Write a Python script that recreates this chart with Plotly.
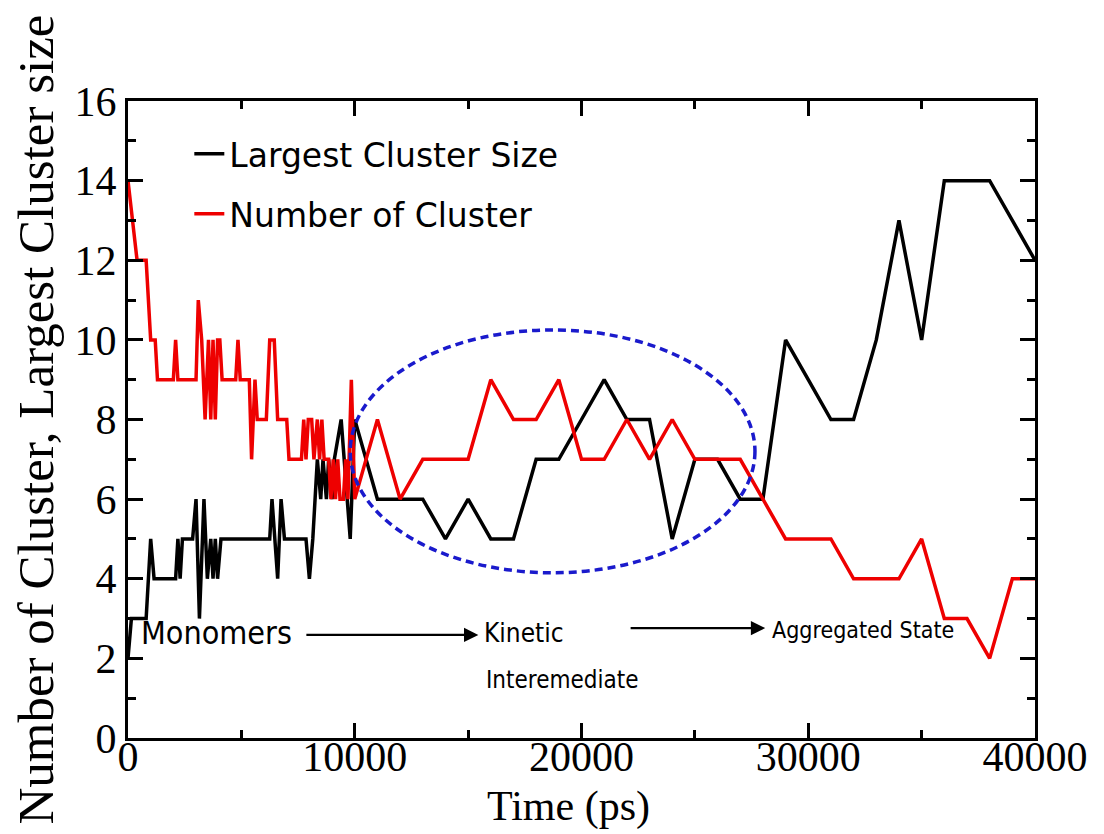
import plotly.graph_objects as go

# ---------------- data ----------------
time_largest = [0, 150, 800, 1000, 1150, 2100, 2200, 2300, 2400, 2850,
                3000, 3150, 3350, 3500, 3650, 3750, 3850, 3950, 4100, 6250,
                6350, 6600, 6750, 6900, 7850, 8000, 8150, 8350, 8500, 8600,
                8750, 8850, 9000, 9100, 9400, 9800, 10000, 11000, 12000, 13000,
                14000, 15000, 16000, 17000, 18000, 19000, 20000, 21000, 22000, 23000,
                24000, 25000, 26000, 27000, 28000, 29000, 30000, 31000, 32000, 33000,
                34000, 35000, 36000, 37000, 38000, 39000, 40000]
largest_size = [2, 3, 3, 5, 4, 4, 5, 4, 5, 5,
                6, 3, 6, 4, 5, 4, 5, 4, 5, 5,
                6, 4, 6, 5, 5, 4, 5, 7, 6, 7,
                6, 7, 6, 7, 8, 5, 8, 6, 6, 6,
                5, 6, 5, 5, 7, 7, 8, 9, 8, 8,
                5, 7, 7, 6, 6, 10, 9, 8, 8, 10,
                13, 10, 14, 14, 14, 13, 12]

time_number = [0, 400, 800, 1000, 1200, 1300, 2000, 2100, 2200, 3000,
               3100, 3250, 3400, 3550, 3650, 3750, 3850, 3950, 4050, 4150,
               4750, 4850, 4950, 5350, 5450, 5600, 5700, 6100, 6250, 6450,
               6600, 7000, 7100, 7650, 7750, 7850, 7950, 8100, 8200, 8350,
               8450, 8550, 8650, 8850, 8950, 9050, 9150, 9250, 9350, 9500,
               9600, 9700, 9850, 10000, 11000, 12000, 13000, 14000, 15000, 16000,
               17000, 18000, 19000, 20000, 21000, 22000, 23000, 24000, 25000, 26000,
               27000, 28000, 29000, 30000, 31000, 32000, 33000, 34000, 35000, 36000,
               37000, 38000, 39000, 40000]
number_clusters = [14, 12, 12, 10, 10, 9, 9, 10, 9, 9,
                   11, 10, 8, 10, 8, 10, 8, 10, 10, 9,
                   9, 10, 9, 9, 7, 9, 8, 8, 10, 10,
                   8, 8, 7, 7, 8, 7, 8, 8, 7, 8,
                   7, 8, 7, 7, 6, 7, 6, 7, 6, 6,
                   7, 6, 9, 6, 8, 6, 7, 7, 7, 9,
                   8, 8, 9, 7, 7, 8, 7, 8, 7, 7,
                   7, 6, 5, 5, 5, 4, 4, 4, 5, 3,
                   3, 2, 4, 4]

x_ticks = [0, 10000, 20000, 30000, 40000]
y_ticks = [0, 2, 4, 6, 8, 10, 12, 14, 16]

SERIF = "Liberation Serif, Times New Roman, serif"
SANS = "DejaVu Sans, sans-serif"
COND = "DejaVu Sans Condensed, DejaVu Sans, sans-serif"

fig = go.Figure()
fig.add_trace(go.Scatter(x=time_largest, y=largest_size, mode="lines",
                         name="Largest Cluster Size", legendgroup="a",
                         line=dict(color="black", width=3.5)))
fig.add_trace(go.Scatter(x=time_number, y=number_clusters, mode="lines",
                         name="Number of Cluster", legendgroup="b",
                         line=dict(color="#ee0000", width=3.5)))

axis_common = dict(showline=True, linewidth=3, linecolor="black", mirror="ticks",
                   ticks="inside", tickwidth=3, tickcolor="black", ticklen=15,
                   showgrid=False, zeroline=False,
                   tickfont=dict(family=SERIF, size=42, color="black"))

fig.update_xaxes(range=[0, 40000], tickvals=x_ticks, ticktext=[str(v) for v in x_ticks],
                 ticklabelstandoff=-20,
                 minor=dict(dtick=5000, ticks="inside", ticklen=8, tickwidth=3,
                            tickcolor="black", showgrid=False),
                 **axis_common)
fig.update_yaxes(range=[0, 16], tickvals=y_ticks, ticktext=[str(v) for v in y_ticks],
                 minor=dict(dtick=1, ticks="inside", ticklen=8, tickwidth=3,
                            tickcolor="black", showgrid=False),
                 **axis_common)

fig.add_shape(type="circle", xref="x", yref="y", x0=9800, x1=27650, y0=4.15, y1=10.25,
              line=dict(color="#1a1acc", width=3.5, dash="8px,5px"))

anns = [
    dict(text="Number of Cluster, Largest Cluster size", xref="paper", yref="paper",
         x=-0.1025, y=0.5, textangle=-90, showarrow=False,
         font=dict(family=SERIF, size=51, color="black"), xanchor="center", yanchor="middle"),
    dict(text="Time (ps)", xref="paper", yref="paper", x=0.486, y=-0.1075,
         showarrow=False, font=dict(family=SERIF, size=42, color="black"),
         xanchor="center", yanchor="middle"),
    dict(text="Monomers", xref="x", yref="y", x=500, y=2.64, showarrow=False,
         xanchor="left", yanchor="middle", font=dict(family=COND, size=32, color="black")),
    dict(text="Kinetic", xref="x", yref="y", x=15600, y=2.64, showarrow=False,
         xanchor="left", yanchor="middle", font=dict(family=COND, size=26, color="black")),
    dict(text="Interemediate", xref="x", yref="y", x=15700, y=1.46, showarrow=False,
         xanchor="left", yanchor="middle", font=dict(family=COND, size=24, color="black")),
    dict(text="Aggregated State", xref="x", yref="y", x=28300, y=2.71, showarrow=False,
         xanchor="left", yanchor="middle", font=dict(family=COND, size=23, color="black")),
    dict(text="", xref="x", yref="y", axref="x", ayref="y", x=15450, y=2.59,
         ax=7800, ay=2.59, showarrow=True, arrowhead=2, arrowsize=1.3, arrowwidth=2.2,
         arrowcolor="black"),
    dict(text="", xref="x", yref="y", axref="x", ayref="y", x=28100, y=2.76,
         ax=22100, ay=2.76, showarrow=True, arrowhead=2, arrowsize=1.3, arrowwidth=2.2,
         arrowcolor="black"),
]
fig.update_layout(annotations=anns)

fig.update_layout(
    width=1104, height=834,
    margin=dict(l=128, r=69, t=101, b=96),
    paper_bgcolor="white", plot_bgcolor="white",
    showlegend=True,
    legend=dict(x=0.0676, y=0.961, xanchor="left", yanchor="top",
                bgcolor="rgba(0,0,0,0)", tracegroupgap=14,
                font=dict(family=SANS, size=33, color="black")),
)

fig.write_html("out.html")
